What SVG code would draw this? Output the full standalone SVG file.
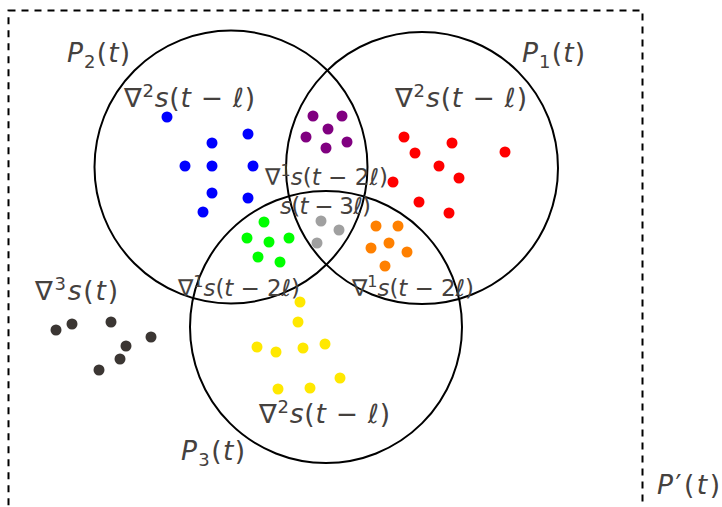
<svg xmlns="http://www.w3.org/2000/svg" width="722" height="507" viewBox="0 0 722 507">
<style>
.c{fill:none;stroke:#000;stroke-width:2}
.t{font-family:"DejaVu Sans","Liberation Sans",sans-serif;fill:#45413e}
.L{font-size:26.5px}
.M{font-size:23px}
.i{font-style:italic}
.b{fill:#0000ff}.p{fill:#800080}.r{fill:#ff0000}.g{fill:#00ff00}.y{fill:#a0a0a0}.o{fill:#ff8000}.w{fill:#ffe800}.d{fill:#3b3633}
</style>
<g id="frame"><rect x="8.5" y="10.5" width="634" height="497.4" fill="none" stroke="#000" stroke-width="2" stroke-dasharray="7,6"/></g>
<g id="P2"><circle class="c" cx="231" cy="167" r="136.5"/>
<text class="t L" x="67" y="62" textLength="63" lengthAdjust="spacing"><tspan class="i">P</tspan><tspan font-size="18" dy="6">2</tspan><tspan dy="-6">(</tspan><tspan class="i">t</tspan>)</text>
<text class="t L" x="124" y="107" textLength="131" lengthAdjust="spacing">∇<tspan font-size="18" dy="-10">2</tspan><tspan class="i" dy="10">s</tspan>(<tspan class="i">t</tspan> − <tspan class="i">ℓ</tspan>)</text>
<g id="blue"><circle class="b" cx="167" cy="117" r="5.5"/><circle class="b" cx="212" cy="143" r="5.5"/><circle class="b" cx="248" cy="134" r="5.5"/><circle class="b" cx="185" cy="166" r="5.5"/><circle class="b" cx="212" cy="166" r="5.5"/><circle class="b" cx="253" cy="166" r="5.5"/><circle class="b" cx="212" cy="193" r="5.5"/><circle class="b" cx="248" cy="198" r="5.5"/><circle class="b" cx="203" cy="212" r="5.5"/></g>
</g>
<g id="P1"><circle class="c" cx="422" cy="168" r="136"/>
<text class="t L" x="522" y="62" textLength="63" lengthAdjust="spacing"><tspan class="i">P</tspan><tspan font-size="18" dy="6">1</tspan><tspan dy="-6">(</tspan><tspan class="i">t</tspan>)</text>
<text class="t L" x="395" y="107" textLength="132" lengthAdjust="spacing">∇<tspan font-size="18" dy="-10">2</tspan><tspan class="i" dy="10">s</tspan>(<tspan class="i">t</tspan> − <tspan class="i">ℓ</tspan>)</text>
<g id="red"><circle class="r" cx="404" cy="137" r="5.5"/><circle class="r" cx="452" cy="143" r="5.5"/><circle class="r" cx="415" cy="153" r="5.5"/><circle class="r" cx="505" cy="152" r="5.5"/><circle class="r" cx="439" cy="166" r="5.5"/><circle class="r" cx="459" cy="178" r="5.5"/><circle class="r" cx="393" cy="182" r="5.5"/><circle class="r" cx="419" cy="202" r="5.5"/><circle class="r" cx="449" cy="213" r="5.5"/></g>
</g>
<g id="P3"><circle class="c" cx="326" cy="327" r="136"/>
<text class="t L" x="181" y="460" textLength="64" lengthAdjust="spacing"><tspan class="i">P</tspan><tspan font-size="18" dy="6">3</tspan><tspan dy="-6">(</tspan><tspan class="i">t</tspan>)</text>
<text class="t L" x="259" y="423" textLength="131" lengthAdjust="spacing">∇<tspan font-size="18" dy="-10">2</tspan><tspan class="i" dy="10">s</tspan>(<tspan class="i">t</tspan> − <tspan class="i">ℓ</tspan>)</text>
<g id="yellow"><circle class="w" cx="300" cy="302" r="5.5"/><circle class="w" cx="298" cy="322" r="5.5"/><circle class="w" cx="257" cy="347" r="5.5"/><circle class="w" cx="276" cy="352" r="5.5"/><circle class="w" cx="303" cy="348" r="5.5"/><circle class="w" cx="325" cy="344" r="5.5"/><circle class="w" cx="340" cy="378" r="5.5"/><circle class="w" cx="278" cy="389" r="5.5"/><circle class="w" cx="310" cy="388" r="5.5"/></g>
</g>
<g id="P12"><text class="t M" x="265" y="185" textLength="123" lengthAdjust="spacing">∇<tspan font-size="16" dy="-9">1</tspan><tspan class="i" dy="9">s</tspan>(<tspan class="i">t</tspan> − 2<tspan class="i">ℓ</tspan>)</text>
<g id="purple"><circle class="p" cx="313" cy="116" r="5.5"/><circle class="p" cx="342" cy="116" r="5.5"/><circle class="p" cx="328" cy="129" r="5.5"/><circle class="p" cx="306" cy="137" r="5.5"/><circle class="p" cx="347" cy="142" r="5.5"/><circle class="p" cx="326" cy="148" r="5.5"/></g>
</g>
<g id="P123"><text class="t M" x="280" y="214" textLength="91" lengthAdjust="spacing"><tspan class="i">s</tspan>(<tspan class="i">t</tspan> − 3<tspan class="i">ℓ</tspan>)</text>
<g id="gray"><circle class="y" cx="321" cy="221" r="5.5"/><circle class="y" cx="339" cy="230" r="5.5"/><circle class="y" cx="317" cy="243" r="5.5"/></g>
</g>
<g id="P23"><text class="t M" x="178" y="296" textLength="122" lengthAdjust="spacing">∇<tspan font-size="16" dy="-9">1</tspan><tspan class="i" dy="9">s</tspan>(<tspan class="i">t</tspan> − 2<tspan class="i">ℓ</tspan>)</text>
<g id="green"><circle class="g" cx="264" cy="222" r="5.5"/><circle class="g" cx="247" cy="238" r="5.5"/><circle class="g" cx="269" cy="242" r="5.5"/><circle class="g" cx="289" cy="238" r="5.5"/><circle class="g" cx="258" cy="257" r="5.5"/><circle class="g" cx="280" cy="262" r="5.5"/></g>
</g>
<g id="P13"><text class="t M" x="352" y="296" textLength="122" lengthAdjust="spacing">∇<tspan font-size="16" dy="-9">1</tspan><tspan class="i" dy="9">s</tspan>(<tspan class="i">t</tspan> − 2<tspan class="i">ℓ</tspan>)</text>
<g id="orange"><circle class="o" cx="376" cy="226" r="5.5"/><circle class="o" cx="398" cy="226" r="5.5"/><circle class="o" cx="389" cy="243" r="5.5"/><circle class="o" cx="371" cy="248" r="5.5"/><circle class="o" cx="407" cy="252" r="5.5"/><circle class="o" cx="385" cy="266" r="5.5"/></g>
</g>
<g id="outside"><text class="t L" x="35" y="300" textLength="83" lengthAdjust="spacing">∇<tspan font-size="18" dy="-10">3</tspan><tspan class="i" dy="10">s</tspan>(<tspan class="i">t</tspan>)</text>
<g id="dark"><circle class="d" cx="56" cy="330" r="5.5"/><circle class="d" cx="72" cy="324" r="5.5"/><circle class="d" cx="111" cy="322" r="5.5"/><circle class="d" cx="151" cy="337" r="5.5"/><circle class="d" cx="126" cy="346" r="5.5"/><circle class="d" cx="120" cy="359" r="5.5"/><circle class="d" cx="99" cy="370" r="5.5"/></g>
</g>
<g id="Pprime"><text class="t L" x="657" y="494" textLength="63" lengthAdjust="spacing"><tspan class="i">P</tspan>′(<tspan class="i">t</tspan>)</text></g>
</svg>
